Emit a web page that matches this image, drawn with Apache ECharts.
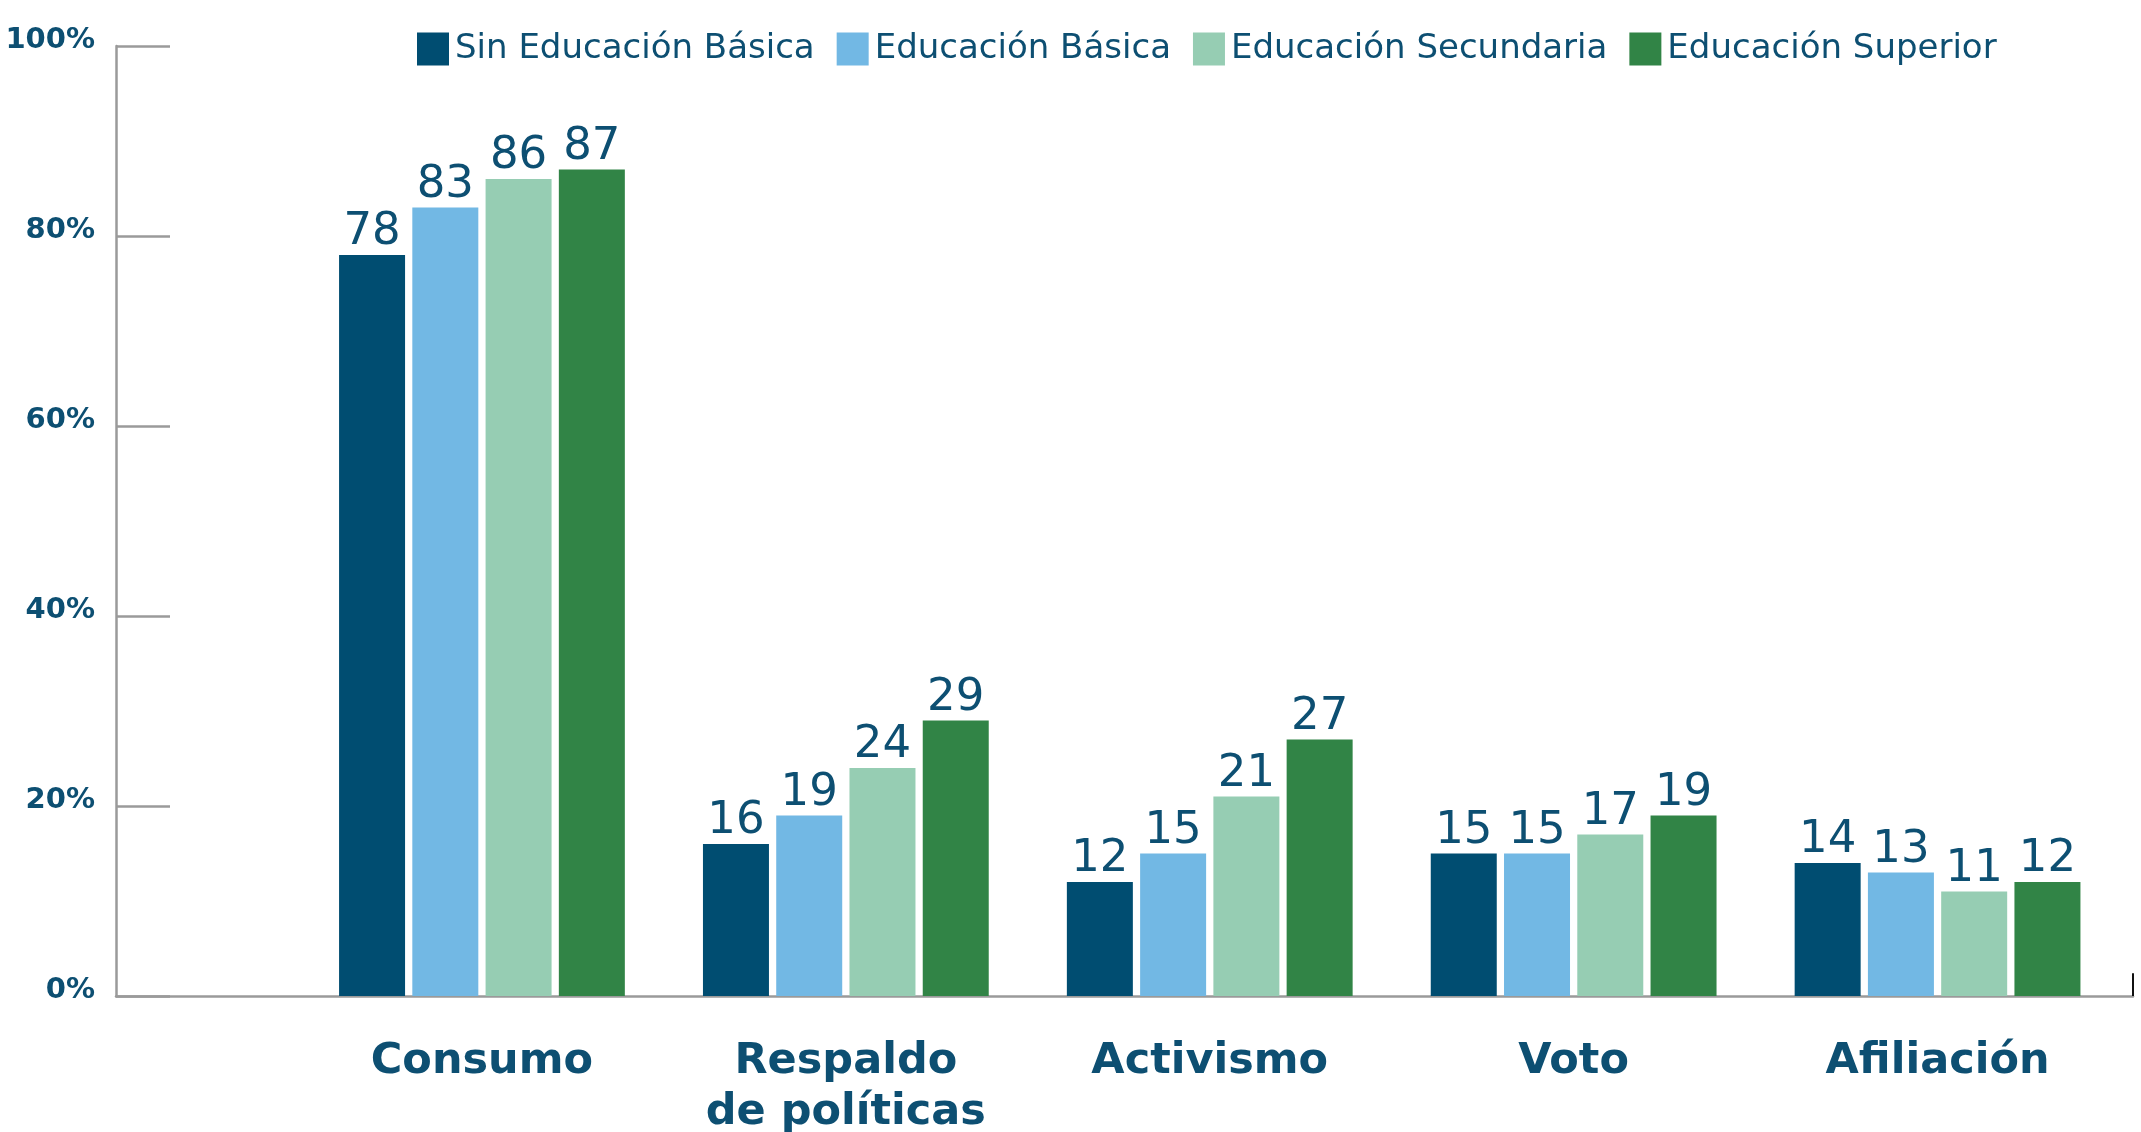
<!DOCTYPE html>
<html>
<head>
<meta charset="utf-8">
<script src="https://cdn.jsdelivr.net/npm/echarts@6/dist/echarts.min.js"></script>
<style>
  html, body { margin: 0; padding: 0; background: #ffffff; }
  #chart { width: 2141px; height: 1132px; }
</style>
</head>
<body>
<div id="chart"></div>
<script>
// Participation by type and education level (%)
const categories = ['Consumo', 'Respaldo\nde políticas', 'Activismo', 'Voto', 'Afiliación'];
const seriesNames = ['Sin Educación Básica', 'Educación Básica', 'Educación Secundaria', 'Educación Superior'];
const sinBasica = [78, 16, 12, 15, 14];
const basica = [83, 19, 15, 15, 13];
const secundaria = [86, 24, 21, 17, 11];
const superior = [87, 29, 27, 19, 12];
const yTicks = [0, 20, 40, 60, 80, 100];

const colors = ['#004d71', '#72b8e4', '#96cdb3', '#318446'];
const textColor = '#0d4f72';
const axisGrey = '#9a9a9a';
const font = '"DejaVu Sans", sans-serif';

const chart = echarts.init(document.getElementById('chart'));

const valuesBySeries = [sinBasica, basica, secundaria, superior];
const barSeries = valuesBySeries.map((vals, i) => ({
  name: seriesNames[i],
  type: 'bar',
  xAxisIndex: 0,
  yAxisIndex: 0,
  data: vals,
  barWidth: 66,
  barGap: '11%',
  itemStyle: { color: colors[i] },
  label: {
    show: true,
    position: 'top',
    distance: 0,
    formatter: '{c}',
    color: textColor,
    fontFamily: font,
    fontSize: 45,
    fontWeight: 'normal'
  }
}));

chart.setOption({
  animation: false,
  backgroundColor: '#ffffff',
  legend: {
    data: seriesNames,
    top: 27,
    left: 412,
    itemWidth: 32,
    itemHeight: 33,
    itemGap: 22,
    icon: 'rect',
    textStyle: { color: textColor, fontFamily: font, fontSize: 34, padding: [0, 0, 0, 1] }
  },
  grid: [
    // bars
    { left: 300, right: 21.5, top: 46, bottom: 136, outerBoundsMode: 'none', containLabel: false },
    // frame with the visible axes
    { left: 116, right: 8, top: 46, bottom: 136, outerBoundsMode: 'none', containLabel: false }
  ],
  xAxis: [
    {
      type: 'category',
      gridIndex: 0,
      data: categories,
      axisLine: { show: false },
      axisTick: { show: false },
      axisLabel: {
        color: textColor,
        fontFamily: font,
        fontSize: 43,
        fontWeight: 'bold',
        lineHeight: 51,
        margin: 40,
        interval: 0
      }
    },
    {
      type: 'value',
      gridIndex: 1,
      min: 0,
      max: 1,
      axisLine: { show: true, onZero: false, lineStyle: { color: axisGrey, width: 2.5 } },
      axisTick: { show: false },
      axisLabel: { show: false },
      splitLine: { show: false }
    }
  ],
  yAxis: [
    {
      type: 'value',
      gridIndex: 0,
      min: 0,
      max: 100,
      interval: 20,
      show: false
    },
    {
      type: 'value',
      gridIndex: 1,
      min: yTicks[0],
      max: yTicks[yTicks.length - 1],
      interval: yTicks[1] - yTicks[0],
      axisLine: { show: true, lineStyle: { color: axisGrey, width: 2.5 } },
      axisTick: { show: true, inside: true, length: 54, lineStyle: { color: axisGrey, width: 2.5 } },
      splitLine: { show: false },
      axisLabel: {
        formatter: '{value}%',
        color: textColor,
        fontFamily: font,
        fontSize: 29,
        fontWeight: 'bold',
        margin: 21,
        verticalAlign: 'bottom',
        lineHeight: 11
      }
    }
  ],
  series: barSeries.concat([
    {
      // closing tick at the far end of the category axis
      type: 'line',
      xAxisIndex: 1,
      yAxisIndex: 1,
      data: [],
      silent: true,
      markLine: {
        symbol: 'none',
        silent: true,
        label: { show: false },
        lineStyle: { color: '#111111', width: 2, type: 'solid' },
        data: [[{ coord: [1, 0] }, { coord: [1, 2.4] }]]
      }
    }
  ])
});
</script>
</body>
</html>
